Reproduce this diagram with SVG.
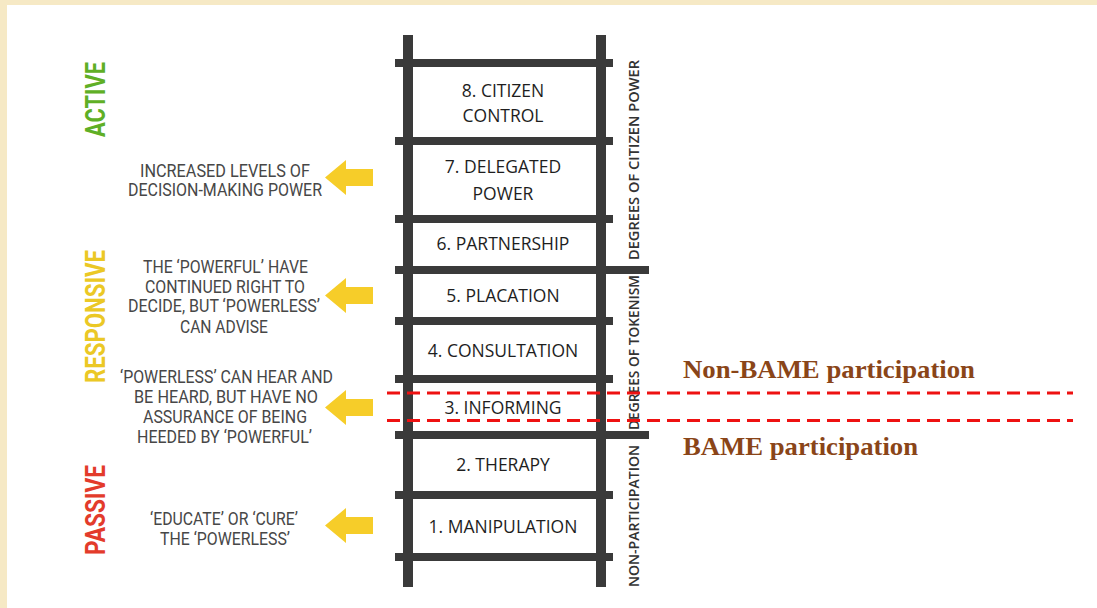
<svg xmlns="http://www.w3.org/2000/svg" width="1097" height="608" viewBox="0 0 1097 608">
<defs>
<style>
.rail{fill:#3a3a3a}
.rung{fill:#3a3a3a}
.step{font-family:"Open Sans","DejaVu Sans",sans-serif;font-size:17.5px;fill:#1e1e1e;text-anchor:middle}
.side{font-family:"Open Sans","DejaVu Sans",sans-serif;font-size:13.5px;font-weight:600;fill:#333;text-anchor:middle}
.desc{font-family:Roboto,"Liberation Sans",sans-serif;font-size:18px;fill:#474747;text-anchor:middle}
.cat{font-family:Roboto,"Liberation Sans",sans-serif;font-weight:bold;font-size:28px;text-anchor:middle}
.arrow{fill:#f6cd29}
.dash{stroke:#ee1111;stroke-width:3.2;stroke-dasharray:13 7;fill:none}
.bame{font-family:"Liberation Serif",serif;font-weight:bold;font-size:26px;fill:#8a4518}
</style>
</defs>
<rect x="0" y="0" width="1097" height="608" fill="#ffffff"/>
<rect x="0" y="0" width="1097" height="5" fill="#f6e9c5"/>
<rect x="0" y="0" width="7" height="608" fill="#f6e9c5"/>

<g id="ladder">
<rect class="rail" x="403" y="35" width="10" height="552"/>
<rect class="rail" x="596" y="35" width="10" height="552"/>
<rect class="rung" x="395" y="59" width="218" height="8"/>
<rect class="rung" x="395" y="137" width="218" height="8"/>
<rect class="rung" x="395" y="215" width="218" height="8"/>
<rect class="rung" x="395" y="266" width="254" height="8"/>
<rect class="rung" x="395" y="317" width="218" height="8"/>
<rect class="rung" x="395" y="375" width="218" height="8"/>
<rect class="rung" x="395" y="431" width="254" height="8"/>
<rect class="rung" x="395" y="491" width="218" height="8"/>
<rect class="rung" x="395" y="553" width="218" height="8"/>
</g>

<g id="step8"><text class="step" x="503" y="97">8. CITIZEN</text><text class="step" x="503" y="122">CONTROL</text></g>
<g id="step7"><text class="step" x="503" y="173">7. DELEGATED</text><text class="step" x="503" y="200">POWER</text></g>
<g id="step6"><text class="step" x="503" y="250">6. PARTNERSHIP</text></g>
<g id="step5"><text class="step" x="503" y="302">5. PLACATION</text></g>
<g id="step4"><text class="step" x="503" y="357">4. CONSULTATION</text></g>
<g id="step3"><text class="step" x="503" y="414">3. INFORMING</text></g>
<g id="step2"><text class="step" x="503" y="471">2. THERAPY</text></g>
<g id="step1"><text class="step" x="503" y="533">1. MANIPULATION</text></g>

<g id="degree-labels">
<text class="side" transform="translate(639,160) rotate(-90)" textLength="200" lengthAdjust="spacingAndGlyphs">DEGREES OF CITIZEN POWER</text>
<text class="side" transform="translate(639,352.5) rotate(-90)" textLength="155" lengthAdjust="spacingAndGlyphs">DEGREES OF TOKENISM</text>
<text class="side" transform="translate(639,516) rotate(-90)" textLength="142" lengthAdjust="spacingAndGlyphs">NON-PARTICIPATION</text>
</g>

<g id="categories">
<text class="cat" fill="#5faf26" transform="translate(105,99.5) rotate(-90)" textLength="75" lengthAdjust="spacingAndGlyphs">ACTIVE</text>
<text class="cat" fill="#ebc825" transform="translate(105,316.5) rotate(-90)" textLength="133" lengthAdjust="spacingAndGlyphs">RESPONSIVE</text>
<text class="cat" fill="#e33b2b" transform="translate(105,510) rotate(-90)" textLength="90" lengthAdjust="spacingAndGlyphs">PASSIVE</text>
</g>

<g id="desc1">
<text class="desc" x="225" y="177" textLength="170" lengthAdjust="spacingAndGlyphs">INCREASED LEVELS OF</text>
<text class="desc" x="225" y="196" textLength="194" lengthAdjust="spacingAndGlyphs">DECISION-MAKING POWER</text>
</g>
<g id="desc2">
<text class="desc" x="225.5" y="273" textLength="165" lengthAdjust="spacingAndGlyphs">THE ‘POWERFUL’ HAVE</text>
<text class="desc" x="225" y="293" textLength="160" lengthAdjust="spacingAndGlyphs">CONTINUED RIGHT TO</text>
<text class="desc" x="224" y="312" textLength="192" lengthAdjust="spacingAndGlyphs">DECIDE, BUT ‘POWERLESS’</text>
<text class="desc" x="224" y="333" textLength="88" lengthAdjust="spacingAndGlyphs">CAN ADVISE</text>
</g>
<g id="desc3">
<text class="desc" x="226.5" y="383" textLength="213" lengthAdjust="spacingAndGlyphs">‘POWERLESS’ CAN HEAR AND</text>
<text class="desc" x="226" y="403" textLength="184" lengthAdjust="spacingAndGlyphs">BE HEARD, BUT HAVE NO</text>
<text class="desc" x="225" y="423" textLength="164" lengthAdjust="spacingAndGlyphs">ASSURANCE OF BEING</text>
<text class="desc" x="224.5" y="443" textLength="175" lengthAdjust="spacingAndGlyphs">HEEDED BY ‘POWERFUL’</text>
</g>
<g id="desc4">
<text class="desc" x="224" y="525" textLength="148" lengthAdjust="spacingAndGlyphs">‘EDUCATE’ OR ‘CURE’</text>
<text class="desc" x="225" y="545" textLength="130" lengthAdjust="spacingAndGlyphs">THE ‘POWERLESS’</text>
</g>

<g id="connectors">
<polygon class="arrow" points="325,177.5 346,160 346,169 373,169 373,186 346,186 346,195"/>
<polygon class="arrow" points="325,295.5 346,278 346,287 373,287 373,304 346,304 346,313"/>
<polygon class="arrow" points="325,407.5 346,390 346,399 373,399 373,416 346,416 346,425"/>
<polygon class="arrow" points="325,525.5 346,508 346,517 373,517 373,534 346,534 346,543"/>
</g>

<g id="bame-lines">
<line class="dash" x1="387" y1="393" x2="1073" y2="393"/>
<line class="dash" x1="387" y1="420.5" x2="1073" y2="420.5"/>
</g>
<g id="non-bame"><text class="bame" x="683" y="378" textLength="292" lengthAdjust="spacingAndGlyphs">Non-BAME participation</text></g>
<g id="bame"><text class="bame" x="683" y="455" textLength="235" lengthAdjust="spacingAndGlyphs">BAME participation</text></g>
</svg>
